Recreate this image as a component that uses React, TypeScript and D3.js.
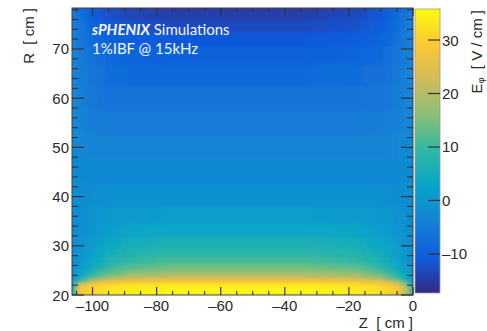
import React, { useMemo } from "react";
import * as d3 from "d3";

// ---- data ----
const Z_NODES = [-106.4, -104, -100, -95, -88, -75, -55, -35, -18, -10, -5, -2, 0];
const R_NODES = [20, 20.6, 21.4, 22.2, 22.8, 23.4, 24, 24.8, 25.8, 27, 28.5, 30.5, 33, 36, 40, 45, 50, 55, 60, 65, 69, 72, 75, 77, 78.4];
// E_phi [V/cm], one row per R node (bottom to top), one value per Z node
const E_PHI = [
  [2, 26, 30, 32, 33, 34, 34, 34, 33, 31, 28, 18, 5],
  [3, 28, 31, 33, 34, 35, 35, 35, 34, 32, 29, 20, 6],
  [3, 28, 31, 33, 34, 35, 35, 35, 34, 32, 29, 20, 6],
  [2, 24, 29, 31, 32, 33, 33, 33, 32, 30, 26, 16, 5],
  [0, 12, 22, 26, 28, 29, 29, 29, 28, 25, 19, 9, 2],
  [-0.5, 6, 15, 20, 23, 24, 24, 24, 23, 19, 12, 5, 0],
  [-1, 3, 10, 15, 18.5, 20.5, 20.5, 20.5, 19, 15, 8, 3, -0.5],
  [-1.5, 2, 7, 12, 15, 17, 17, 17, 15.5, 11.5, 6, 2, -1],
  [-2, 1, 4.5, 9, 12, 14, 14, 14, 12.5, 9, 4, 1, -1.5],
  [-2, 0, 3, 7, 9.5, 11, 11, 11, 9.5, 6.5, 3, 0, -2],
  [-2, -0.5, 2, 5, 7.5, 9, 9, 9, 7.5, 5, 2, -0.5, -2],
  [-2, -1, 1, 3.5, 5.5, 6.5, 6.5, 6.5, 5.5, 3.5, 1, -1, -2],
  [-2, -1.5, 0, 1.5, 3, 3.5, 3.5, 3.5, 3, 1.5, 0, -1.5, -2],
  [-2, -1.5, -0.5, 0.5, 1, 1.5, 1.5, 1.5, 1, 0.5, -0.5, -1.5, -2],
  [-2, -2, -1.5, -1, -1, -1, -1, -1, -1, -1, -1.5, -2, -2],
  [-2, -2.5, -2.5, -2.5, -2.5, -2.5, -2.5, -2.5, -2.5, -2.5, -2.5, -2, -2],
  [-2, -3, -3.5, -3.5, -3.5, -3.5, -3.5, -3.5, -3.5, -3.5, -3, -2.5, -2],
  [-2.5, -3.5, -4.5, -5, -5, -5, -5, -5, -5, -4.5, -4, -3, -2.5],
  [-2.5, -4, -5.5, -6.5, -6.5, -6.5, -6.5, -6.5, -6.5, -6, -5, -3.5, -2.5],
  [-3, -4.5, -6, -7.5, -8, -8, -8, -8, -7.5, -7, -5.5, -4, -3],
  [-3.5, -5, -7, -8.5, -9, -9.5, -9.5, -9.5, -9, -8, -6, -4.5, -3.5],
  [-4, -5.5, -8, -9.5, -10.5, -11, -11, -11, -10.5, -9, -7, -5, -4],
  [-4.5, -6, -9, -11, -12, -13, -13, -13, -12, -10, -7.5, -5.5, -4.5],
  [-5, -7, -10, -12, -13.5, -14.5, -14.5, -14.5, -13, -11, -8, -6, -5],
  [-6, -8, -11, -13, -14, -15, -15, -15, -14, -12, -9, -7, -6],
];

const X_TICKS = [-100, -80, -60, -40, -20, 0];
const X_MINOR = [-105, -95, -90, -85, -75, -70, -65, -55, -50, -45, -35, -30, -25, -15, -10, -5];
const Y_TICKS = [20, 30, 40, 50, 60, 70];
const Y_MINOR = [22, 24, 26, 28, 32, 34, 36, 38, 42, 44, 46, 48, 52, 54, 56, 58, 62, 64, 66, 68, 72, 74, 76, 78];
const Z_TICKS = [-10, 0, 10, 20, 30];

const Z_RANGE = [-106.4, 0];
const R_RANGE = [20, 78.33];
const E_RANGE = [-17.3, 35.8];

// ROOT kBird palette
const BIRD = [
  [0.2082, 0.1664, 0.5293],
  [0.0592, 0.3599, 0.8684],
  [0.078, 0.5041, 0.8385],
  [0.0232, 0.6419, 0.7914],
  [0.1802, 0.7178, 0.6425],
  [0.5301, 0.7492, 0.4662],
  [0.8186, 0.7328, 0.3499],
  [0.9956, 0.7862, 0.1968],
  [0.9764, 0.9832, 0.0539],
].map(([r, g, b]) => d3.rgb(r * 255, g * 255, b * 255).formatHex());

const FONT = "'Liberation Sans', Arial, Helvetica, sans-serif";
const TXT = "#2a2a2a";

export default function App() {
  const W = 487, H = 331;
  const L = 72, T = 8, R = 413, B = 295;
  const CB0 = 415, CB1 = 440;

  const x = d3.scaleLinear().domain(Z_RANGE).range([L, R]);
  const y = d3.scaleLinear().domain(R_RANGE).range([B, T]);
  const cy = d3.scaleLinear().domain(E_RANGE).range([B - 2, T + 1]);
  const color = useMemo(() => {
    const dom = d3.range(BIRD.length).map((i) => E_RANGE[0] + (i / (BIRD.length - 1)) * (E_RANGE[1] - E_RANGE[0]));
    return d3.scaleLinear<string>().domain(dom).range(BIRD).interpolate(d3.interpolateRgb).clamp(true);
  }, []);

  const pad = 2;
  const rows = R_NODES.map((r, i) => {
    const lo = i === 0 ? R_RANGE[0] - pad : (R_NODES[i - 1] + r) / 2;
    const hi = i === R_NODES.length - 1 ? R_RANGE[1] + pad : (R_NODES[i + 1] + r) / 2;
    return { i, lo, hi, vals: E_PHI[i] };
  });

  const cbStops = d3.range(0, 1.0001, 0.02).map((t) => ({
    t,
    c: color(E_RANGE[0] + t * (E_RANGE[1] - E_RANGE[0])),
  }));

  const span = x(Z_RANGE[1]) - x(Z_RANGE[0]);

  return (
    <svg width={W} height={H} style={{ position: "absolute", left: 0, top: 0, background: "#fff" }} fontFamily={FONT}>
      <defs>
        {rows.map((row) => (
          <linearGradient key={row.i} id={`row${row.i}`} gradientUnits="userSpaceOnUse" x1={x(Z_RANGE[0])} x2={x(Z_RANGE[1])} y1={0} y2={0}>
            {Z_NODES.map((z, j) => (
              <stop key={j} offset={(x(z) - x(Z_RANGE[0])) / span} stopColor={color(row.vals[j])} />
            ))}
          </linearGradient>
        ))}
        <linearGradient id="cbar" x1="0" x2="0" y1="1" y2="0">
          {cbStops.map((s, k) => (
            <stop key={k} offset={s.t} stopColor={s.c} />
          ))}
        </linearGradient>
        <clipPath id="plotclip">
          <rect x={L} y={T} width={R - L} height={B - T} />
        </clipPath>
        <filter id="soft" x="-10%" y="-10%" width="120%" height="120%">
          <feGaussianBlur stdDeviation="1.6" />
        </filter>
      </defs>

      {/* heat map */}
      <g clipPath="url(#plotclip)">
        <g filter="url(#soft)">
          {rows.map((row) => (
            <rect
              key={row.i}
              x={L - 6}
              width={R - L + 12}
              y={y(row.hi)}
              height={y(row.lo) - y(row.hi) + 0.6}
              fill={`url(#row${row.i})`}
            />
          ))}
        </g>
      </g>

      {/* frame */}
      <rect x={L} y={T} width={R - L} height={B - T} fill="none" stroke="#444" strokeWidth={1} />

      {/* y ticks, both sides */}
      {Y_TICKS.map((v) => (
        <g key={`ym${v}`} stroke="#333" strokeWidth={1.2}>
          <line x1={L} x2={L + 12} y1={y(v)} y2={y(v)} />
          <line x1={R} x2={R - 12} y1={y(v)} y2={y(v)} />
        </g>
      ))}
      {Y_MINOR.map((v) => (
        <g key={`yn${v}`} stroke="#333" strokeWidth={1.1}>
          <line x1={L} x2={L + 6} y1={y(v)} y2={y(v)} />
          <line x1={R} x2={R - 6} y1={y(v)} y2={y(v)} />
        </g>
      ))}
      {/* x ticks, top and bottom */}
      {X_TICKS.map((v) => (
        <g key={`xm${v}`} stroke="#333" strokeWidth={1.2}>
          <line x1={x(v)} x2={x(v)} y1={B} y2={B - 8} />
          <line x1={x(v)} x2={x(v)} y1={T} y2={T + 8} />
        </g>
      ))}
      {X_MINOR.map((v) => (
        <g key={`xn${v}`} stroke="#333" strokeWidth={1.1}>
          <line x1={x(v)} x2={x(v)} y1={B} y2={B - 4} />
          <line x1={x(v)} x2={x(v)} y1={T} y2={T + 4} />
        </g>
      ))}

      {/* tick labels */}
      {Y_TICKS.map((v) => (
        <text key={`yl${v}`} x={69} y={y(v) + 5.5} textAnchor="end" fontSize={15} fill={TXT}>
          {v}
        </text>
      ))}
      {X_TICKS.map((v) => (
        <text key={`xl${v}`} x={x(v)} y={311} textAnchor="middle" fontSize={15} fill={TXT}>
          {v < 0 ? `\u2013${Math.abs(v)}` : v}
        </text>
      ))}

      {/* axis titles */}
      <text x={413} y={328} textAnchor="end" fontSize={15} fill={TXT}>
        {"Z\u00a0\u00a0[\u00a0cm\u00a0]"}
      </text>
      <text transform={`translate(34,8) rotate(-90)`} textAnchor="end" fontSize={15} fill={TXT}>
        {"R\u00a0\u00a0[\u00a0cm\u00a0]"}
      </text>

      {/* colour bar */}
      <rect x={CB0} y={T + 1} width={CB1 - CB0} height={B - 2 - (T + 1)} fill="url(#cbar)" stroke="#999" strokeWidth={0.8} />
      {Z_TICKS.map((v) => (
        <g key={`cb${v}`}>
          <line x1={CB1} x2={CB1 - 12} y1={cy(v)} y2={cy(v)} stroke="#333" strokeWidth={1.2} />
          <text x={442} y={cy(v) + 5.5} fontSize={15} fill={TXT}>
            {v < 0 ? `\u2013${Math.abs(v)}` : v}
          </text>
        </g>
      ))}
      <text transform={`translate(482,10) rotate(-90)`} textAnchor="end" fontSize={15} fill={TXT}>
        E
        <tspan fontSize={9} dy={2}>
          φ
        </tspan>
        <tspan dy={-2}>{"\u00a0\u00a0[\u00a0V\u00a0/\u00a0cm\u00a0]"}</tspan>
      </text>

      {/* labels inside the plot */}
      <text x={92} y={35} fontSize={15} fill="#f4f6ff" fontFamily="Lato, 'Open Sans', sans-serif">
        <tspan fontWeight="bold" fontStyle="italic">sPHENIX</tspan>
        <tspan>{"\u00a0Simulations"}</tspan>
      </text>
      <text x={92} y={54} fontSize={15} fill="#f4f6ff" fontFamily="Lato, 'Open Sans', sans-serif">
        1%IBF @ 15kHz
      </text>
    </svg>
  );
}
